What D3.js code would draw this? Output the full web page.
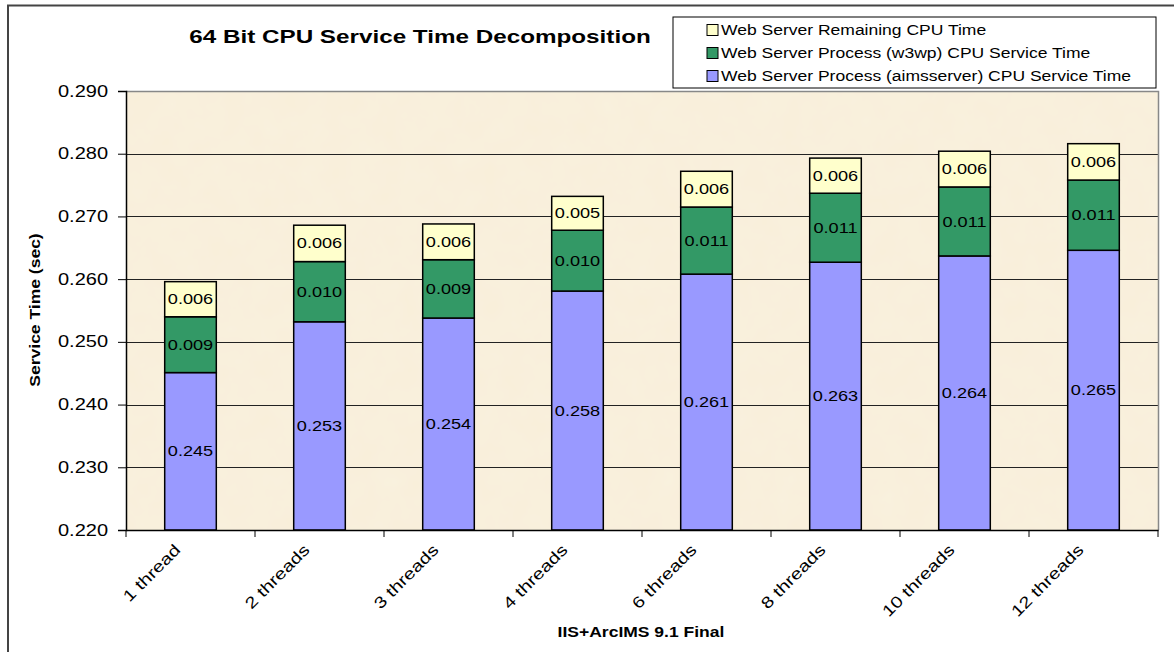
<!DOCTYPE html>
<html>
<head>
<meta charset="utf-8">
<script src="https://cdn.jsdelivr.net/npm/d3@7"></script>
<style>
  body { margin: 0; background: #fff; }
  text { font-family: "Liberation Sans", Arial, sans-serif; fill: #000; }
</style>
</head>
<body>
<div id="chart"></div>
<script>
// data
const categories = ["1 thread", "2 threads", "3 threads", "4 threads", "6 threads", "8 threads", "10 threads", "12 threads"];
const aimsserver = [0.2451, 0.2532, 0.2538, 0.2581, 0.2608, 0.2627, 0.2637, 0.2646];
const w3wp = [0.0089, 0.0096, 0.0093, 0.0097, 0.0107, 0.0110, 0.0110, 0.0112];
const remaining = [0.0056, 0.0058, 0.0057, 0.0054, 0.0057, 0.0056, 0.0057, 0.0058];
const yTicks = [0.22, 0.23, 0.24, 0.25, 0.26, 0.27, 0.28, 0.29];
const seriesNames = [
  "Web Server Process (aimsserver) CPU Service Time",
  "Web Server Process (w3wp) CPU Service Time",
  "Web Server Remaining CPU Time"
];
const seriesColors = ["#9999ff", "#339966", "#ffffcc"];

const W = 1174, H = 652;
const margin = { top: 91, left: 126, right: 16, bottom: 122 };
const innerW = W - margin.left - margin.right;
const innerH = H - margin.top - margin.bottom;
const yMin = yTicks[0];

const svg = d3.select("#chart").append("svg")
  .attr("width", W).attr("height", H);

// outer frame (only top & left visible in the reference)
svg.append("path")
  .attr("d", `M8,${H} V5.5 H${W}`)
  .attr("fill", "none").attr("stroke", "#444").attr("stroke-width", 2);

const rows = categories.map((c, i) => ({ cat: c, s0: aimsserver[i], s1: w3wp[i], s2: remaining[i] }));
const layers = d3.stack().keys(["s0", "s1", "s2"])(rows);

const x = d3.scaleBand().domain(categories).range([0, innerW]).paddingInner(0.6).paddingOuter(0.3);
const y = d3.scaleLinear().domain([yMin, 0.29]).range([innerH, 0]);
const lo = d => Math.max(d[0], yMin);

const g = svg.append("g").attr("transform", `translate(${margin.left},${margin.top})`);

// paper-like background
const defs = svg.append("defs");
const filt = defs.append("filter").attr("id", "paper").attr("x", 0).attr("y", 0).attr("width", 1).attr("height", 1);
filt.append("feTurbulence").attr("type", "fractalNoise").attr("baseFrequency", 0.04).attr("numOctaves", 3).attr("seed", 4).attr("result", "noise");
filt.append("feColorMatrix").attr("in", "noise").attr("type", "matrix")
  .attr("values", "0 0 0 0 0.99  0 0 0 0 0.95  0 0 0 0 0.86  0 0 0 0.3 0").attr("result", "tint");
filt.append("feComposite").attr("in", "tint").attr("in2", "SourceGraphic").attr("operator", "over");

g.append("rect")
  .attr("width", innerW).attr("height", innerH)
  .attr("fill", "#f9efda");
g.append("rect")
  .attr("width", innerW).attr("height", innerH)
  .attr("fill", "#f9efda").attr("filter", "url(#paper)").attr("opacity", 0.7);

// gridlines
g.selectAll("line.grid").data(yTicks.slice(1, -1)).enter().append("line")
  .attr("x1", 0).attr("x2", innerW)
  .attr("y1", d => Math.round(y(d)) + 0.5).attr("y2", d => Math.round(y(d)) + 0.5)
  .attr("stroke", "#222").attr("stroke-width", 1);

// plot border top / right (gray)
g.append("path")
  .attr("d", `M0,0.5 H${innerW + 0.5} V${innerH}`)
  .attr("fill", "none").attr("stroke", "#888").attr("stroke-width", 1.5);

// bars
const layerG = g.selectAll("g.layer").data(layers).enter().append("g")
  .attr("fill", (d, i) => seriesColors[i]);
layerG.selectAll("rect").data(d => d).enter().append("rect")
  .attr("x", d => x(d.data.cat))
  .attr("width", x.bandwidth())
  .attr("y", d => y(d[1]))
  .attr("height", d => y(lo(d)) - y(d[1]))
  .attr("stroke", "#000").attr("stroke-width", 1.5);

// value labels
layers.forEach(layer => {
  g.selectAll(null).data(layer).enter().append("text")
    .attr("x", d => x(d.data.cat) + x.bandwidth() / 2)
    .attr("y", d => (y(lo(d)) + y(d[1])) / 2)
    .attr("dy", "0.35em")
    .attr("text-anchor", "middle")
    .style("font-size", "14.5px")
    .text(d => (d[1] - d[0]).toFixed(3));
});

// y axis
const yAxis = d3.axisLeft(y).tickValues(yTicks).tickFormat(d3.format(".3f")).tickSizeOuter(0).tickSize(8);
const ya = g.append("g").call(yAxis);
ya.select(".domain").attr("stroke", "#000").attr("stroke-width", 1.5);
ya.selectAll(".tick line").attr("stroke", "#000");
ya.selectAll(".tick text").style("font-size", "16px").attr("x", -18).attr("fill", "#000");

// x axis
const xAxis = d3.axisBottom(x).tickSize(0).tickSizeOuter(0);
const xa = g.append("g").attr("transform", `translate(0,${innerH})`).call(xAxis);
xa.select(".domain").attr("stroke", "#000").attr("stroke-width", 1.5);
xa.selectAll(".tick text")
  .style("font-size", "16px")
  .attr("fill", "#000")
  .attr("text-anchor", "end")
  .attr("dy", "0.35em")
  .attr("transform", "translate(-13,17) rotate(-45)")
  .attr("y", 0).attr("x", 0);
// tick marks at the band boundaries
const step = x.step();
g.append("g").attr("transform", `translate(0,${innerH})`)
  .selectAll("line").data(d3.range(categories.length + 1)).enter().append("line")
  .attr("x1", i => i * step).attr("x2", i => i * step)
  .attr("y1", 0).attr("y2", 7)
  .attr("stroke", "#000").attr("stroke-width", 1);

// title and axis titles
svg.append("text")
  .attr("class", "title")
  .attr("x", 420).attr("y", 43)
  .attr("text-anchor", "middle")
  .style("font-size", "18.5px").style("font-weight", "bold")
  .text("64 Bit CPU Service Time Decomposition");

svg.append("text")
  .attr("transform", "translate(40,310) rotate(-90)")
  .attr("text-anchor", "middle")
  .style("font-size", "14px").style("font-weight", "bold")
  .text("Service Time (sec)");

svg.append("text")
  .attr("x", 641).attr("y", 637)
  .attr("text-anchor", "middle")
  .style("font-size", "14px").style("font-weight", "bold")
  .text("IIS+ArcIMS 9.1 Final");

// legend
const leg = svg.append("g").attr("transform", "translate(673,17)");
leg.append("rect")
  .attr("width", 483).attr("height", 71)
  .attr("fill", "#fff").attr("stroke", "#000").attr("stroke-width", 1);
const legOrder = [2, 1, 0];
const li = leg.selectAll("g.item").data(legOrder).enter().append("g")
  .attr("transform", (d, i) => `translate(34,${13 + i * 23})`);
li.append("rect")
  .attr("x", 0).attr("y", -5.5).attr("width", 11).attr("height", 11)
  .attr("fill", d => seriesColors[d]).attr("stroke", "#000").attr("stroke-width", 1);
li.append("text")
  .attr("x", 14).attr("y", 0).attr("dy", "0.35em")
  .style("font-size", "14px")
  .text(d => seriesNames[d]);

// the reference's lettering is set wide; stretch every text horizontally
svg.selectAll("text").each(function () {
  const k = this.classList.contains("title") ? 1.31 : 1.25;
  const len = this.getComputedTextLength();
  d3.select(this).attr("textLength", len * k).attr("lengthAdjust", "spacingAndGlyphs");
});
</script>
</body>
</html>
